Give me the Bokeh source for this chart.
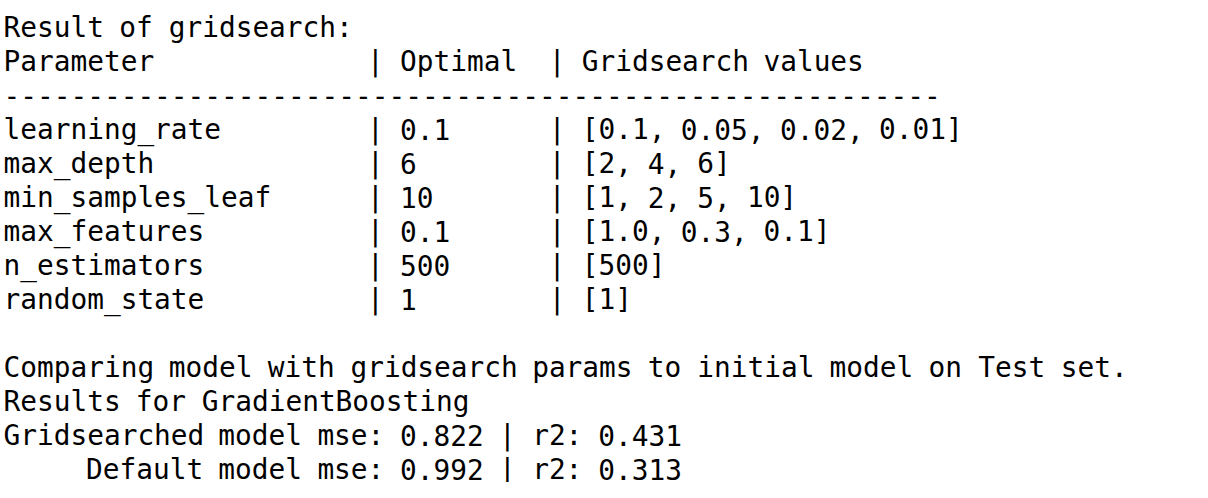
import re
from bokeh.plotting import figure
from bokeh.models import Range1d
from bokeh.core.properties import value
from bokeh.embed import file_html
from bokeh.resources import INLINE

params = ["learning_rate", "max_depth", "min_samples_leaf", "max_features", "n_estimators", "random_state"]
optimal = ["0.1", "6", "10", "0.1", "500", "1"]
grid_values = ["[0.1, 0.05, 0.02, 0.01]", "[2, 4, 6]", "[1, 2, 5, 10]", "[1.0, 0.3, 0.1]", "[500]", "[1]"]
model_name = "GradientBoosting"
grid_mse, grid_r2 = 0.822, 0.431
default_mse, default_r2 = 0.992, 0.313

lines = ["Result of gridsearch:",
         f"{'Parameter':<22}| {'Optimal':<9}| Gridsearch values",
         "-" * 56]
for p_, o_, g_ in zip(params, optimal, grid_values):
    lines.append(f"{p_:<22}| {o_:<9}| {g_}")
lines += ["",
          "Comparing model with gridsearch params to initial model on Test set.",
          f"Results for {model_name}",
          f"Gridsearched model mse: {grid_mse:.3f} | r2: {grid_r2:.3f}",
          f"     Default model mse: {default_mse:.3f} | r2: {default_r2:.3f}"]

# svg collapses runs of spaces, so every word is placed at its column
cw = 16.52
xs, ys, words = [], [], []
for i, line in enumerate(lines):
    for m in re.finditer(r"\S+", line):
        xs.append(m.start() * cw)
        ys.append(27 + 34 * i)
        words.append(m.group())

W, H = 1192, 482
p = figure(width=W, height=H, output_backend="svg", toolbar_location=None,
           x_range=Range1d(-3, W - 3), y_range=Range1d(H, 0), min_border=0)
p.axis.visible = False
p.grid.visible = False
p.outline_line_color = None

p.text(x=xs, y=ys, text=words, text_font=value("DejaVu Sans Mono"),
       text_font_size="27.8px", text_baseline="middle", text_color="black")

open("out.html", "w").write(file_html(p, INLINE))
